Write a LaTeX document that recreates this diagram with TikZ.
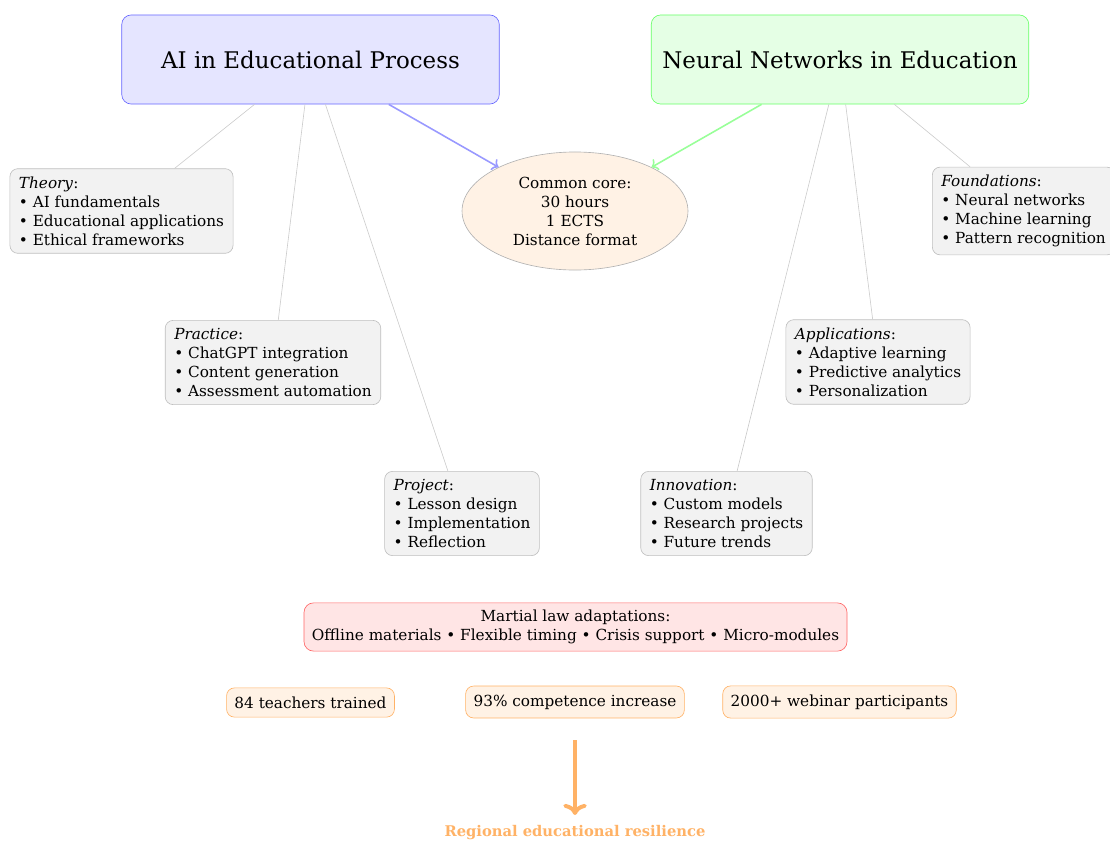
\documentclass[tikz,border=0pt]{standalone}
\usepackage{fontspec}
\setmainfont{DejaVu Serif}
\usetikzlibrary{shapes.geometric,arrows.meta}
\tikzset{
  main/.style={draw, rounded corners=6pt, minimum width=238.6pt, minimum height=56.3pt, font=\fontsize{14.5}{17}\selectfont},
  topic/.style={draw=gray!50, fill=gray!10, rounded corners=5pt, align=left, inner xsep=5.7pt, inner ysep=5pt},
  stat/.style={draw=orange!60, fill=orange!10, rounded corners=5pt, inner xsep=5pt, inner ysep=5.5pt},
  link/.style={draw=gray!40, thin},
  feed/.style={->, line width=1pt}
}
\begin{document}
\begin{tikzpicture}[x=0.632pt, y=-0.632pt, font=\fontsize{9.65}{12}\selectfont]
\useasboundingbox (0,0) rectangle (1110,841);
\node[main, draw=blue!60, fill=blue!10] (ai) at (310.5,59.5) {AI in Educational Process};
\node[main, draw=green!60, fill=green!10] (nn) at (840,59.5) {Neural Networks in Education};
\node[ellipse, draw=gray!60, fill=orange!10, minimum width=142.8pt, minimum height=74.6pt, align=center, inner sep=0pt] (core) at (575,211) {Common core:\\30 hours\\1 ECTS\\Distance format};

\node[topic] (theory) at (121.5,211) {\textit{Theory}:\\• AI fundamentals\\• Educational applications\\• Ethical frameworks};
\node[topic] (practice) at (273,362.5) {\textit{Practice}:\\• ChatGPT integration\\• Content generation\\• Assessment automation};
\node[topic] (project) at (462,513.5) {\textit{Project}:\\• Lesson design\\• Implementation\\• Reflection};
\node[topic, anchor=west] (found) at (932,211) {\textit{Foundations}:\\• Neural networks\\• Machine learning\\• Pattern recognition};
\node[topic] (appl) at (878,362) {\textit{Applications}:\\• Adaptive learning\\• Predictive analytics\\• Personalization};
\node[topic] (innov) at (726.5,513.5) {\textit{Innovation}:\\• Custom models\\• Research projects\\• Future trends};

\draw[link] (ai) -- (theory);
\draw[link] (ai) -- (practice);
\draw[link] (ai) -- (project);
\draw[link] (nn) -- (found);
\draw[link] (nn) -- (appl);
\draw[link] (nn) -- (innov);

\draw[feed, blue!40] (ai) -- (core);
\draw[feed, green!40] (nn) -- (core);

\node[draw=red!60, fill=red!10, rounded corners=6pt, align=center, inner xsep=5pt, inner ysep=4.5pt] (martial) at (575.5,627) {Martial law adaptations:\\Offline materials • Flexible timing • Crisis support • Micro-modules};

\node[stat] (s1) at (310.5,702.5) {84 teachers trained};
\node[stat] (s2) at (575,702) {93\% competence increase};
\node[stat] (s3) at (839.5,702) {2000+ webinar participants};

\coordinate (astart) at (575,740);
\node[text=orange!60, font=\fontsize{9.3}{12}\selectfont\bfseries] (result) at (575,833) {Regional educational resilience};
\draw[->, orange!60, line width=2.5pt] (astart) -- (575,815);
\end{tikzpicture}
\end{document}
